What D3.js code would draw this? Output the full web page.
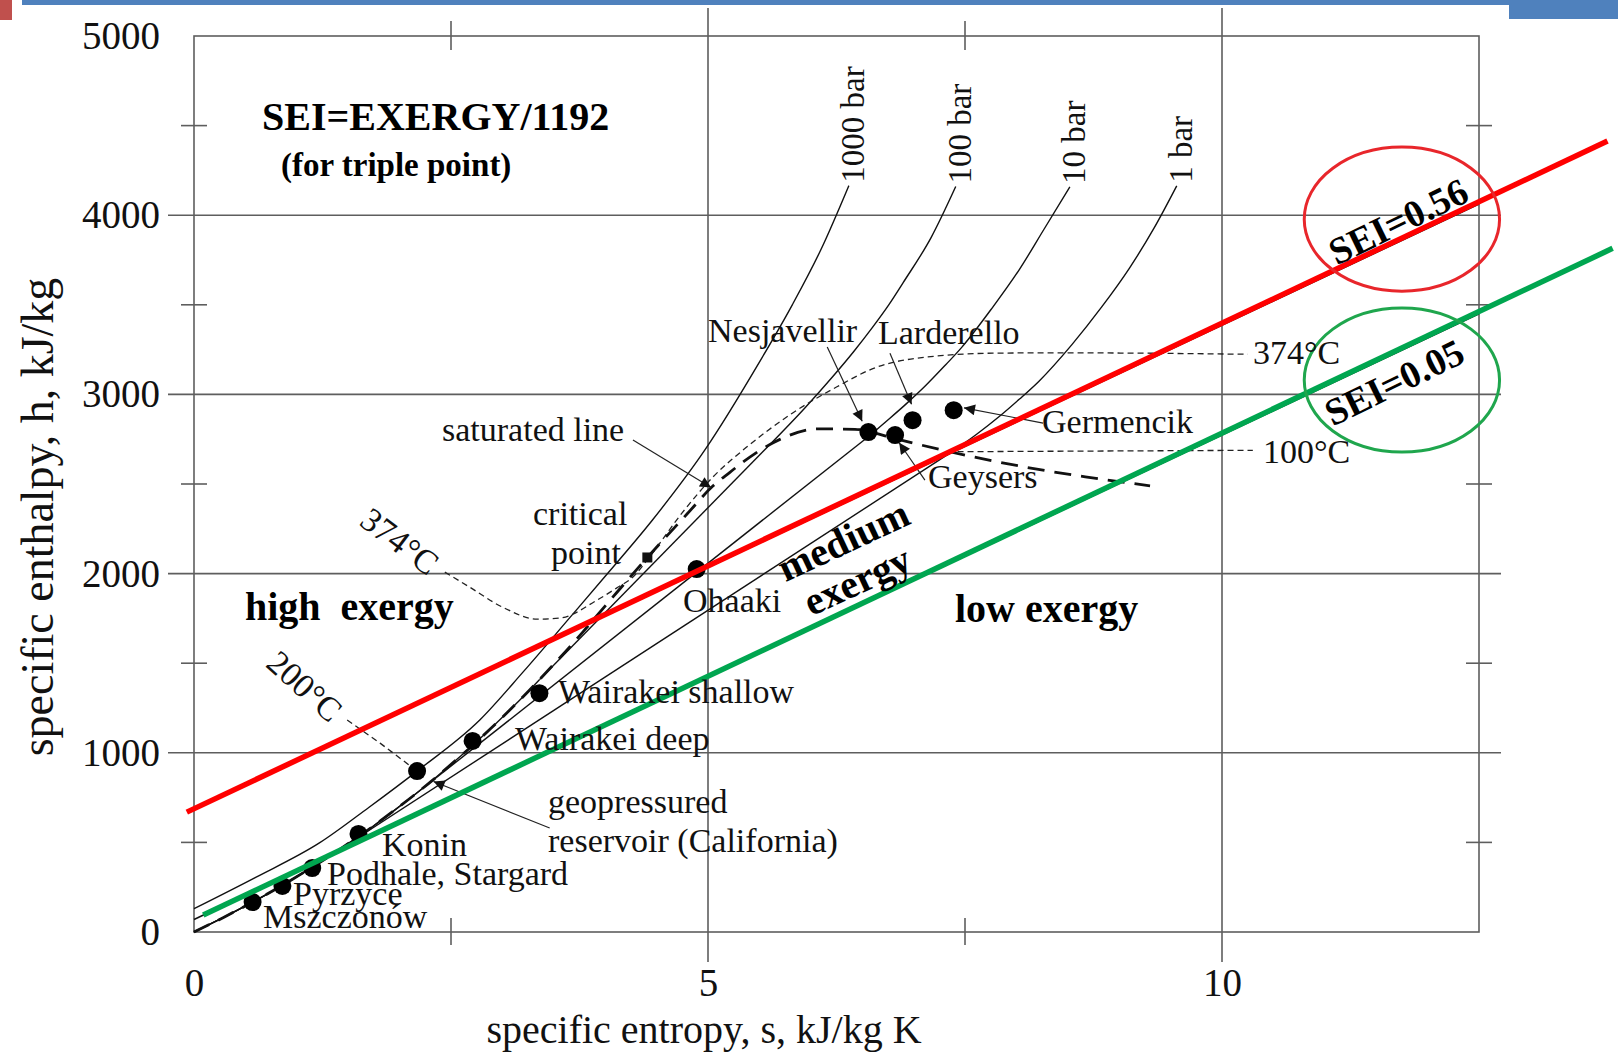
<!DOCTYPE html>
<html>
<head>
<meta charset="utf-8">
<script src="https://cdn.jsdelivr.net/npm/d3@7"></script>
<style>
  html, body { margin: 0; padding: 0; background: #fff; }
  svg { display: block; font-family: "Liberation Serif", "Times New Roman", serif; }
</style>
</head>
<body>
<svg id="chart"></svg>
<script>
// ---- data (s in kJ/kg K, h in kJ/kg) ----
const hTicks = [0, 1000, 2000, 3000, 4000, 5000];
const sTicks = [0, 5, 10];

const satLiquid = [[0, 0], [0.2966, 84], [0.5725, 168], [0.8312, 251], [1.0753, 335], [1.3069, 419],
  [1.5276, 504], [1.7391, 589], [1.9427, 676], [2.1396, 763], [2.3309, 852], [2.5178, 944],
  [2.7015, 1037], [2.8838, 1134], [3.0668, 1236], [3.2534, 1344], [3.448, 1462], [3.6594, 1594],
  [3.7777, 1671], [3.9147, 1762], [4.1106, 1893], [4.41, 2090]];
const satVapour = [[4.41, 2090], [4.8, 2335], [5.05, 2490], [5.21, 2564], [5.34, 2622], [5.7, 2749],
  [6.07, 2808], [6.43, 2805], [6.84, 2750], [7.35, 2680], [8.08, 2595], [8.67, 2540], [9.3, 2490]];
const criticalPoint = [4.41, 2090];

const isobarNames = ["1000 bar", "100 bar", "10 bar", "1 bar"];
const bar1000 = [[0, 130], [0.6, 305], [1.22, 497], [1.7, 695], [2.17, 898], [2.78, 1183], [3.2, 1450],
  [3.66, 1757], [4.0, 1985], [4.46, 2299], [4.97, 2690], [5.5, 3180], [5.82, 3500], [6.1, 3810], [6.37, 4165]];
const bar100Sat = [[3.36, 1408], [5.61, 2725]];
const bar100Vap = [[5.61, 2725], [5.94, 2923], [6.21, 3097], [6.42, 3241], [6.6, 3374], [6.76, 3501],
  [6.9, 3625], [7.17, 3875], [7.41, 4160]];
const bar10Sat = [[2.14, 763], [6.59, 2778]];
const bar10Vap = [[6.59, 2778], [6.69, 2828], [6.92, 2943], [7.12, 3051], [7.3, 3158], [7.47, 3264],
  [7.76, 3479], [8.03, 3698], [8.27, 3923], [8.52, 4158]];
const bar1Sat = [[1.3, 417], [7.36, 2675]];
const bar1Vap = [[7.36, 2675], [7.61, 2776], [7.83, 2875], [8.03, 2974], [8.22, 3074], [8.54, 3278],
  [8.83, 3488], [9.1, 3705], [9.34, 3929], [9.56, 4164]];

const iso374 = [[2.44, 2008], [2.68, 1925], [3.0, 1813], [3.34, 1746], [3.56, 1752], [3.92, 1852],
  [4.11, 1919], [4.27, 1981], [4.43, 2092], [4.75, 2340], [5.05, 2540], [5.37, 2703], [5.82, 2895],
  [6.25, 3041], [6.64, 3152], [7.12, 3208], [7.77, 3230], [8.42, 3232], [10.25, 3224]];
const iso200 = [[1.49, 1183], [1.81, 1054], [2.17, 898]];
const iso100 = [[7.33, 2680], [10.3, 2688]];

const seiHigh = [[-0.07, 669], [13.75, 4414]];
const seiLow = [[0.09, 95], [13.8, 3815]];
const seiHighBase = [[0, 684], [12.5, 4062]];
const seiLowBase = [[0, 70], [12.5, 3450]];
const seiNames = ["SEI=0.56", "SEI=0.05"];

const fieldNames = ["Mszczonów", "Pyrzyce", "Podhale, Stargard", "Konin", "geopressured", "Wairakei deep",
  "Wairakei shallow", "Ohaaki", "Nesjavellir", "Geysers", "Larderello", "Germencik"];
const fieldS = [0.57, 0.86, 1.15, 1.6, 2.17, 2.71, 3.36, 4.89, 6.56, 6.82, 6.99, 7.39];
const fieldH = [167, 257, 357, 547, 898, 1066, 1333, 2025, 2790, 2773, 2856, 2912];

// ---- drawing ----
const W = 1618, H = 1055;
const svg = d3.select("#chart").attr("width", W).attr("height", H);

const x = d3.scaleLinear().domain([0, 12.5]).range([194, 1479]);
const y = d3.scaleLinear().domain([0, 5000]).range([932, 36]);

const gridCol = "#5e5e5e";
const serif = "'Liberation Serif','Times New Roman',serif";

// slide decoration
svg.append("rect").attr("x", 22).attr("y", 0).attr("width", W - 22).attr("height", 5).attr("fill", "#4f81bd");
svg.append("rect").attr("x", 0).attr("y", 0).attr("width", 12).attr("height", 20).attr("fill", "#c0504d");
svg.append("rect").attr("x", 1509).attr("y", 0).attr("width", W - 1509).attr("height", 19).attr("fill", "#4f81bd");

const defs = svg.append("defs");
defs.append("marker").attr("id", "arr")
  .attr("viewBox", "0 0 10 10").attr("refX", 10).attr("refY", 5)
  .attr("markerWidth", 15).attr("markerHeight", 11)
  .attr("markerUnits", "userSpaceOnUse").attr("orient", "auto")
  .append("path").attr("d", "M0,0 L10,5 L0,10 z").attr("fill", "#111");

const grid = svg.append("g").attr("stroke", gridCol).attr("stroke-width", 1.6);

grid.selectAll("line.hg").data([1000, 2000, 3000, 4000]).join("line")
  .attr("x1", 168).attr("x2", 1501)
  .attr("y1", d => y(d)).attr("y2", d => y(d));
grid.selectAll("line.vg").data([5, 10]).join("line")
  .attr("y1", 8).attr("y2", 962)
  .attr("x1", d => x(d)).attr("x2", d => x(d));
grid.selectAll("line.ml").data([500, 1500, 2500, 3500, 4500]).join("line")
  .attr("x1", x(0) - 13).attr("x2", x(0) + 13)
  .attr("y1", d => y(d)).attr("y2", d => y(d));
grid.selectAll("line.mr").data([500, 1500, 2500, 3500, 4500]).join("line")
  .attr("x1", x(12.5) - 13).attr("x2", x(12.5) + 13)
  .attr("y1", d => y(d)).attr("y2", d => y(d));
grid.selectAll("line.mt").data([2.5, 7.5]).join("line")
  .attr("y1", y(5000) - 15).attr("y2", y(5000) + 14)
  .attr("x1", d => x(d)).attr("x2", d => x(d));
grid.selectAll("line.mb").data([2.5, 7.5]).join("line")
  .attr("y1", y(0) - 14).attr("y2", y(0) + 13)
  .attr("x1", d => x(d)).attr("x2", d => x(d));
grid.append("rect")
  .attr("x", x(0)).attr("y", y(5000))
  .attr("width", x(12.5) - x(0)).attr("height", y(0) - y(5000))
  .attr("fill", "none");

// axes (labels only)
const yAxisG = svg.append("g").attr("transform", `translate(${x(0)},0)`)
  .call(d3.axisLeft(y).tickValues(hTicks).tickSize(0).tickPadding(34).tickFormat(d3.format("d")));
const xAxisG = svg.append("g").attr("transform", `translate(0,${y(0)})`)
  .call(d3.axisBottom(x).tickValues(sTicks).tickSize(0).tickPadding(36).tickFormat(d3.format("d")));
[yAxisG, xAxisG].forEach(g => {
  g.select(".domain").remove();
  g.selectAll("text").attr("font-family", serif).attr("font-size", 39).attr("fill", "#111");
});

svg.append("text")
  .attr("x", 704).attr("y", 1043)
  .attr("text-anchor", "middle").attr("font-size", 40).attr("fill", "#111")
  .text("specific entropy, s, kJ/kg K");
svg.append("text")
  .attr("transform", "translate(53,517) rotate(-90)")
  .attr("text-anchor", "middle").attr("font-size", 46).attr("fill", "#111")
  .text("specific enthalpy, h, kJ/kg");

const lin = d3.line().x(d => x(d[0])).y(d => y(d[1]));
const smooth = d3.line().x(d => x(d[0])).y(d => y(d[1])).curve(d3.curveMonotoneX);

const curves = svg.append("g").attr("fill", "none").attr("stroke", "#111").attr("stroke-width", 1.4);

// isobars
const liquidTo = s => satLiquid.filter(d => d[0] < s - 0.02);
[[bar100Sat, bar100Vap], [bar10Sat, bar10Vap], [bar1Sat, bar1Vap]].forEach(([sat, vap]) => {
  curves.append("path").attr("d", smooth(liquidTo(sat[0][0]).concat([sat[0]])));
  curves.append("path").attr("d", lin(sat));
  curves.append("path").attr("d", smooth(vap));
});
curves.append("path").attr("d", smooth(bar1000));

// isotherms (thin dashed)
const thin = svg.append("g").attr("fill", "none").attr("stroke", "#222")
  .attr("stroke-width", 1.3).attr("stroke-dasharray", "6,4");
thin.append("path").attr("d", smooth(iso374));
thin.append("path").attr("d", lin(iso200));
thin.append("path").attr("d", lin(iso100));

// saturated line (bold dashed)
svg.append("path")
  .attr("d", smooth(satLiquid.concat(satVapour.slice(1))))
  .attr("fill", "none").attr("stroke", "#111").attr("stroke-width", 2.8)
  .attr("stroke-dasharray", "17,10");

svg.append("rect")
  .attr("x", x(criticalPoint[0]) - 5).attr("y", y(criticalPoint[1]) - 5)
  .attr("width", 10).attr("height", 10).attr("fill", "#111");

// original black SEI lines
curves.append("path").attr("d", lin(seiHighBase)).attr("stroke-width", 1.6);
curves.append("path").attr("d", lin(seiLowBase)).attr("stroke-width", 1.6);

// field points
svg.append("g").selectAll("circle").data(fieldNames).join("circle")
  .attr("cx", (d, i) => x(fieldS[i])).attr("cy", (d, i) => y(fieldH[i]))
  .attr("r", 9).attr("fill", "#000");

// leader arrows [tail s,h] -> [head s,h]
const arrows = [
  [[4.27, 2745], [5.03, 2480]],
  [[6.16, 3264], [6.5, 2850]],
  [[6.77, 3230], [6.98, 2945]],
  [[7.11, 2522], [6.86, 2730]],
  [[8.26, 2840], [7.49, 2925]],
  [[3.46, 580], [2.33, 840]]
];
svg.append("g").selectAll("line").data(arrows).join("line")
  .attr("x1", d => x(d[0][0])).attr("y1", d => y(d[0][1]))
  .attr("x2", d => x(d[1][0])).attr("y2", d => y(d[1][1]))
  .attr("stroke", "#222").attr("stroke-width", 1.2).attr("marker-end", "url(#arr)");

// SEI colour lines + ellipses
svg.append("path").attr("d", lin(seiHigh)).attr("stroke", "#ff0000").attr("stroke-width", 5.5).attr("fill", "none");
svg.append("path").attr("d", lin(seiLow)).attr("stroke", "#00a650").attr("stroke-width", 5.5).attr("fill", "none");

const ellipses = [[11.75, 3978, "#e8262b"], [11.75, 3080, "#1fa64d"]];
svg.selectAll("ellipse").data(ellipses).join("ellipse")
  .attr("cx", d => x(d[0])).attr("cy", d => y(d[1]))
  .attr("rx", x(0.95) - x(0)).attr("ry", y(0) - y(402))
  .attr("fill", "none").attr("stroke", d => d[2]).attr("stroke-width", 3);

const seiPos = [[1398, 221], [1394, 382]];
svg.selectAll("text.sei").data(seiNames).join("text")
  .attr("transform", (d, i) => `translate(${seiPos[i][0]},${seiPos[i][1]}) rotate(-26)`)
  .attr("text-anchor", "middle").attr("dy", "0.35em")
  .attr("font-size", 38).attr("font-weight", "bold").attr("fill", "#000")
  .text(d => d);

// isobar labels
const isoTops = [bar1000[bar1000.length - 1], bar100Vap[bar100Vap.length - 1],
  bar10Vap[bar10Vap.length - 1], bar1Vap[bar1Vap.length - 1]];
svg.selectAll("text.iso").data(isobarNames).join("text")
  .attr("transform", (d, i) => `translate(${x(isoTops[i][0]) + 15},${y(isoTops[i][1]) - 3}) rotate(-90)`)
  .attr("font-size", 33).attr("fill", "#111")
  .text(d => d);

// field labels
const fieldLabelPos = [[263, 928], [293, 905], [327, 885], [382, 856], [548, 813], [515, 750],
  [558, 703], [683, 612], [708, 342], [928, 488], [878, 344], [1042, 433]];
svg.selectAll("text.fl").data(fieldNames).join("text")
  .attr("x", (d, i) => fieldLabelPos[i][0]).attr("y", (d, i) => fieldLabelPos[i][1])
  .attr("font-size", 34).attr("fill", "#111")
  .text(d => d);

const notes = [
  ["reservoir (California)", 548, 852],
  ["saturated line", 442, 441],
  ["critical", 533, 525],
  ["point", 551, 564],
  ["374°C", 1253, 364],
  ["100°C", 1263, 463]
];
svg.selectAll("text.nt").data(notes).join("text")
  .attr("x", d => d[1]).attr("y", d => d[2])
  .attr("font-size", 34).attr("fill", "#111")
  .text(d => d[0]);

const rotNotes = [["374°C", 400, 541, 37], ["200°C", 305, 686, 42]];
svg.selectAll("text.rn").data(rotNotes).join("text")
  .attr("transform", d => `translate(${d[1]},${d[2]}) rotate(${d[3]})`)
  .attr("text-anchor", "middle").attr("dy", "0.35em")
  .attr("font-size", 34).attr("fill", "#111")
  .text(d => d[0]);

// bold titles
const bolds = [
  ["SEI=EXERGY/1192", 262, 130, 40],
  ["(for triple point)", 281, 176, 33],
  ["high  exergy", 245, 620, 40],
  ["low exergy", 955, 622, 40]
];
svg.selectAll("text.bd").data(bolds).join("text")
  .attr("x", d => d[1]).attr("y", d => d[2])
  .attr("font-size", d => d[3]).attr("font-weight", "bold").attr("fill", "#000")
  .style("white-space", "pre")
  .text(d => d[0]);

const midNotes = [["medium", 843, 540], ["exergy", 857, 580]];
svg.selectAll("text.md").data(midNotes).join("text")
  .attr("transform", d => `translate(${d[1]},${d[2]}) rotate(-25)`)
  .attr("text-anchor", "middle").attr("dy", "0.35em")
  .attr("font-size", 40).attr("font-weight", "bold").attr("fill", "#000")
  .text(d => d[0]);
</script>
</body>
</html>
